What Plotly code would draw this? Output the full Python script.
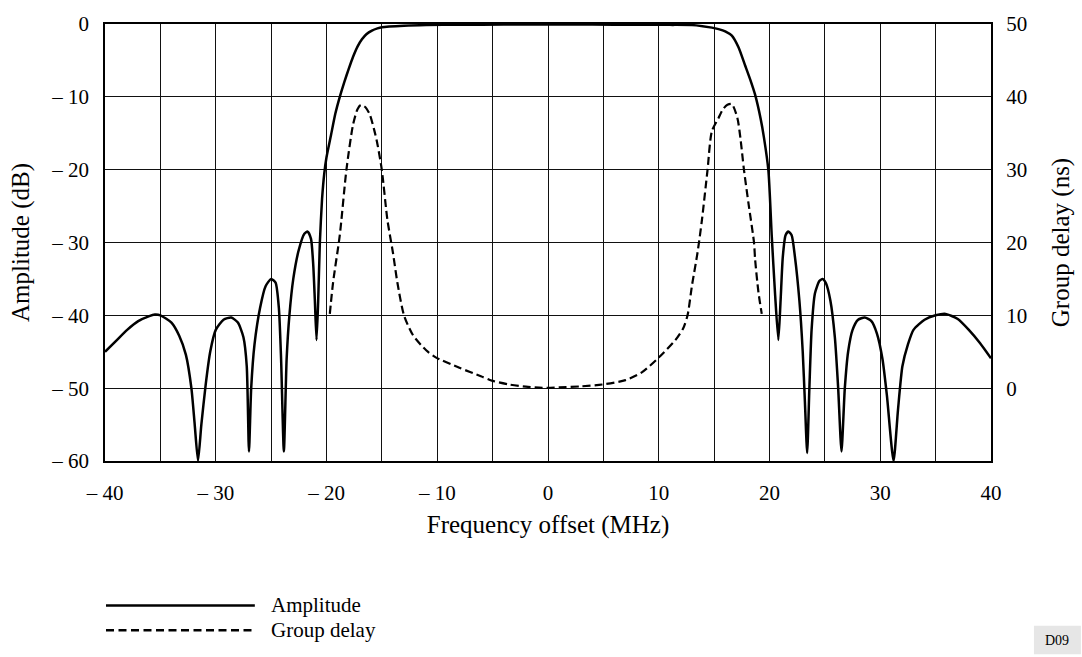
import plotly.graph_objects as go

# ---- data ----
amp_freq = [-40, -39, -38, -37, -36, -35.5, -35, -34, -33.3, -32.7, -32.2, -31.9, -31.6, -31.3, -30.9, -30.5, -30,
            -29.3, -28.6, -28, -27.5, -27.2, -27.0, -26.8, -26.5, -26, -25.5, -25, -24.6, -24.3, -24.1, -23.85,
            -23.6, -23.35, -23.0, -22.5, -22.0, -21.7, -21.4, -21.2, -21.05, -20.9, -20.75, -20.6, -20.4, -20.2,
            -20.0, -19.6, -19.2, -18.8, -18.4, -18.0, -17.6, -17.2, -16.8, -16.4, -15.9, -15.4, -15, -13, -11,
            -8, -4, 0, 4, 8, 11, 13,
            14.8, 15.4, 16.0, 16.6, 17.2, 17.8, 18.3, 18.7, 19.2, 19.5, 19.9, 20.2, 20.5, 20.8, 21.0, 21.2,
            21.45, 21.7, 22.0, 22.3, 22.7, 23.0, 23.2, 23.4, 23.6, 23.8, 24.1, 24.5, 24.8, 25.1, 25.5, 25.9,
            26.2, 26.5, 26.8, 27.1, 27.5, 28.0, 28.6, 29.2, 29.7, 30.2, 30.6, 31.2, 31.6, 32.0, 32.5, 33,
            34, 35, 35.9, 37, 38, 39, 40]
amp_db = [-45.0, -43.5, -42.0, -40.8, -40.1, -39.9, -40.0, -41.0, -42.8, -45.4, -50, -55, -60, -55, -49.4, -45, -42,
          -40.6, -40.3, -41.0, -43, -47, -58.7, -50, -44, -39, -36, -35.0, -35.5, -39, -46, -58.7,
          -46, -40, -35, -31, -28.8, -28.5, -29.5, -33, -38, -43.4, -38, -30, -24, -20.5,
          -18.3, -15.3, -12.3, -10, -8.0, -6.2, -4.5, -3.1, -2.1, -1.4, -0.9, -0.6, -0.45, -0.25, -0.15,
          -0.1, -0.08, -0.08, -0.08, -0.1, -0.12, -0.15,
          -0.5, -0.7, -1.0, -1.6, -3.2, -5.7, -7.8, -9.7, -13, -15.6, -20.1, -29, -37, -43.4, -38, -32,
          -29, -28.5, -29, -32, -38, -45, -52, -58.9, -50, -42, -37, -35.3, -35.0, -35.6, -38, -43,
          -50, -58.7, -50, -45, -42, -40.6, -40.3, -40.8, -42.5, -46, -51, -60, -53, -47, -44, -42,
          -40.6, -40, -39.8, -40.5, -42.0, -43.8, -45.9]

gd_freq = [-19.7, -19.4, -18.8, -18.2, -17.6, -17.2, -16.9, -16.5, -16.1, -15.7, -15.4, -15.0, -14.5, -14.0,
           -13.6, -13.0, -12.2, -11, -10.1, -8.0, -6, -5, -3.5, -2, -0.5, 1, 3, 4.9, 7, 8.5, 10, 11.5, 12.2,
           12.6, 13.0, 13.5, 13.9, 14.4, 14.8, 15.4, 15.8, 16.2, 16.6, 17.1, 17.4, 17.7, 18.1, 18.6, 18.7,
           19.0, 19.3]
gd_ns = [10.2, 14.6, 21, 30, 36.2, 38.3, 38.9, 38.6, 37.6, 35.5, 33.5, 29.9, 23.1, 18.6,
         14.5, 10, 7.3, 5.2, 4.2, 2.8, 1.6, 1.0, 0.5, 0.2, 0.05, 0.1, 0.25, 0.5, 1.1, 2.2, 4.2, 6.6, 8.2,
         10, 14.1, 18.6, 23.1, 29.9, 35.3, 37.1, 38.3, 38.9, 39.0, 37.1, 34, 29.9, 25.4, 20, 17.7,
         13.2, 10.2]

x_tickvals = [-40, -35, -30, -25, -20, -15, -10, -5, 0, 5, 10, 15, 20, 25, 30, 35, 40]
x_ticktext = ["\u2013 40", "", "\u2013 30", "", "\u2013 20", "", "\u2013 10", "", "0", "", "10", "", "20", "", "30", "", "40"]
y_tickvals = [-60, -50, -40, -30, -20, -10, 0]
y_ticktext = ["\u2013 60", "\u2013 50", "\u2013 40", "\u2013 30", "\u2013 20", "\u2013 10", "0"]
y2_tickvals = [0, 10, 20, 30, 40, 50]
y2_ticktext = ["0", "10", "20", "30", "40", "50"]

FONT = "Liberation Serif, Times New Roman, serif"
FS = 21

fig = go.Figure()
fig.add_trace(go.Scatter(x=amp_freq, y=amp_db, mode="lines", name="Amplitude",
                         line=dict(color="black", width=2.5, shape="spline", smoothing=0.6),
                         showlegend=False))
fig.add_trace(go.Scatter(x=gd_freq, y=gd_ns, mode="lines", name="Group delay", yaxis="y2",
                         line=dict(color="black", width=2.2, dash="8px,4px", shape="spline", smoothing=0.7),
                         showlegend=False))

fig.update_layout(
    width=1082, height=657,
    margin=dict(l=105, r=90, t=18, b=196),
    paper_bgcolor="white", plot_bgcolor="white",
    font=dict(family=FONT, size=FS, color="black"),
    xaxis=dict(range=[-40, 40], tickmode="array", tickvals=x_tickvals, ticktext=x_ticktext,
               showgrid=True, gridcolor="#111", gridwidth=1, zeroline=False,
               showline=True, linecolor="black", linewidth=1.5, mirror=True,
               ticks="outside", ticklen=12, tickcolor="rgba(0,0,0,0)",
               title=dict(text="Frequency offset (MHz)", standoff=12)),
    yaxis=dict(range=[-60, 0], tickmode="array", tickvals=y_tickvals, ticktext=y_ticktext,
               showgrid=True, gridcolor="#111", gridwidth=1, zeroline=False,
               showline=True, linecolor="black", linewidth=1.5, mirror=True,
               ticks="outside", ticklen=10, tickcolor="rgba(0,0,0,0)",
               title=dict(text="Amplitude (dB)", standoff=15)),
    yaxis2=dict(range=[-10, 50], overlaying="y", side="right", tickmode="array",
                tickvals=y2_tickvals, ticktext=y2_ticktext, showgrid=False, zeroline=False,
                ticks="outside", ticklen=10, tickcolor="rgba(0,0,0,0)",
                title=dict(text="Group delay (ns)", standoff=25)),
)

# legend drawn manually (long line samples as in the reference)
fig.add_shape(type="line", xref="paper", yref="paper", x0=(106-105)/887, x1=(255-105)/887,
              y0=(461-607.5)/443, y1=(461-607.5)/443, line=dict(color="black", width=2.5))
fig.add_shape(type="line", xref="paper", yref="paper", x0=(106-105)/887, x1=(255-105)/887,
              y0=(461-632.5)/443, y1=(461-632.5)/443, line=dict(color="black", width=2.5, dash="8px,4.5px"))
fig.add_annotation(xref="paper", yref="paper", x=(269-105)/887, y=(461-607)/443, text="Amplitude",
                   showarrow=False, xanchor="left", yanchor="middle", font=dict(size=FS))
fig.add_annotation(xref="paper", yref="paper", x=(269-105)/887, y=(461-632)/443, text="Group delay",
                   showarrow=False, xanchor="left", yanchor="middle", font=dict(size=FS))

# D09 tag
fig.add_shape(type="rect", xref="paper", yref="paper", x0=(1035-105)/887, x1=(1082-105)/887,
              y0=(461-657)/443, y1=(461-628)/443, fillcolor="#e6e6e6", line=dict(width=0), layer="below")
fig.add_annotation(xref="paper", yref="paper", x=(1058.5-105)/887, y=(461-642.5)/443, text="D09",
                   showarrow=False, xanchor="center", yanchor="middle", font=dict(size=14))

fig.write_html("out.html")
